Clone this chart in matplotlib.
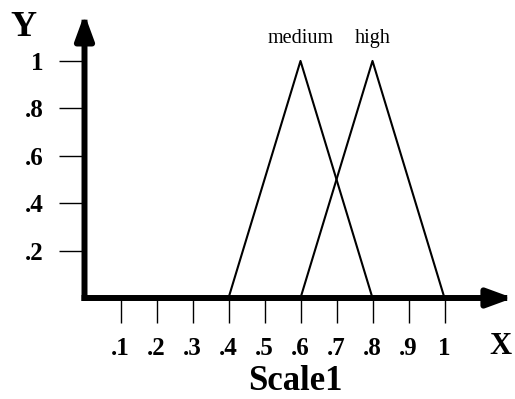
import matplotlib
matplotlib.use('Agg')
import matplotlib.pyplot as plt

plt.rcParams['font.family'] = ['Liberation Serif', 'DejaVu Serif']

# membership functions (triangles)
medium_x = [0.4, 0.6, 0.8]
medium_y = [0, 1, 0]
high_x = [0.6, 0.8, 1.0]
high_y = [0, 1, 0]

xticks = [0.1, 0.2, 0.3, 0.4, 0.5, 0.6, 0.7, 0.8, 0.9, 1.0]
xtick_labels = ['.1', '.2', '.3', '.4', '.5', '.6', '.7', '.8', '.9', '1']
yticks = [0.2, 0.4, 0.6, 0.8, 1.0]
ytick_labels = ['.2', '.4', '.6', '.8', '1']

W, H = 515, 399
fig = plt.figure(figsize=(W / 100, H / 100), dpi=100)
# axes placed so that origin sits at pixel (84.5, 298)
ax = fig.add_axes([84.5 / W, (H - 298) / H, 428.4 / W, 284 / H])
ax.set_xlim(0, 1.19)
ax.set_ylim(0, 1.198)
for s in ax.spines.values():
    s.set_visible(False)
ax.patch.set_alpha(0)

ax.plot(medium_x, medium_y, color='black', lw=1.5, clip_on=False)
ax.plot(high_x, high_y, color='black', lw=1.5, clip_on=False)

ax.text(0.6, 1.076, 'medium', ha='center', va='baseline', fontsize=14.5)
ax.text(0.8, 1.076, 'high', ha='center', va='baseline', fontsize=14.5)

# axes with arrow heads
arrow = dict(arrowstyle='-|>,head_length=15,head_width=5.5', lw=4.3, color='black',
             shrinkA=0, shrinkB=0, mutation_scale=1, capstyle='projecting')
ax.annotate('', xy=(1, 0), xytext=(0, 0), xycoords='axes fraction',
            arrowprops=arrow, annotation_clip=False)
ax.annotate('', xy=(0, 1), xytext=(0, 0), xycoords='axes fraction',
            arrowprops=arrow, annotation_clip=False)

ax.set_xticks(xticks)
ax.set_xticklabels(xtick_labels, fontweight='bold')
ax.set_yticks(yticks)
ax.set_yticklabels(ytick_labels, fontweight='bold')
ax.tick_params(axis='x', direction='out', length=18, width=1, pad=10, labelsize=18)
ax.tick_params(axis='y', direction='out', length=18.7, width=1, pad=11, labelsize=18)

fig.text(23 / W, 1 - 36 / H, 'Y', ha='center', va='baseline', fontsize=26, fontweight='bold')
fig.text(500 / W, 1 - 354 / H, 'X', ha='center', va='baseline', fontsize=22, fontweight='bold')
fig.text(295 / W, 1 - 390 / H, 'Scale1', ha='center', va='baseline', fontsize=25, fontweight='bold')

fig.savefig('out.png', dpi=100)
